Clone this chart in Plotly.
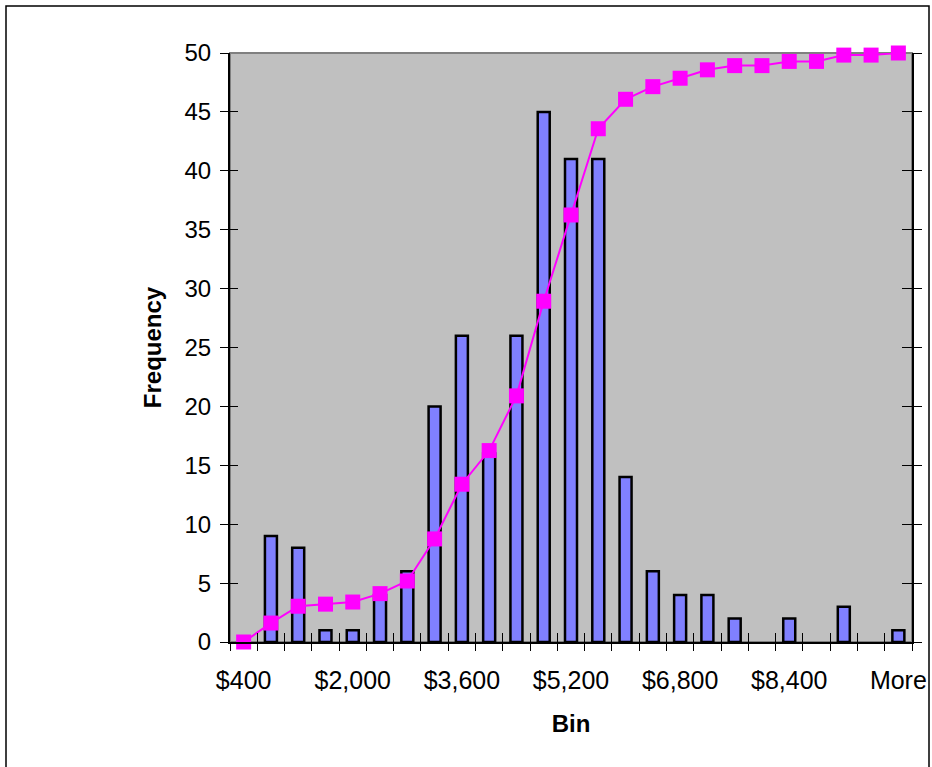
import numpy as np
import plotly.graph_objects as go

# Histogram bins (upper bound of each $400 bin) and counts
bins = ["$400", "$800", "$1,200", "$1,600", "$2,000", "$2,400", "$2,800",
        "$3,200", "$3,600", "$4,000", "$4,400", "$4,800", "$5,200", "$5,600",
        "$6,000", "$6,400", "$6,800", "$7,200", "$7,600", "$8,000", "$8,400",
        "$8,800", "$9,200", "$9,600", "More"]
frequency = [0, 9, 8, 1, 1, 4, 6, 20, 26, 16, 26, 45, 41, 41,
             14, 6, 4, 4, 2, 0, 2, 0, 3, 0, 1]
# Only every fourth bin carries a label on the category axis
labeled_bins = ["$400", "$2,000", "$3,600", "$5,200", "$6,800", "$8,400", "More"]

# Cumulative share of observations, in percent
cumulative_pct = np.cumsum(frequency) / np.sum(frequency) * 100.0

FONT = "Liberation Sans, Arial, sans-serif"
tick_text = [b if b in labeled_bins else "" for b in bins]
# empty bins get no bar outline at all
bar_heights = [v if v > 0 else None for v in frequency]

fig = go.Figure()

fig.add_trace(go.Bar(
    x=bins, y=bar_heights, xaxis="x", yaxis="y",
    width=0.44,
    marker=dict(color="#8080FF", line=dict(color="#000000", width=2.5)),
    name="Frequency", showlegend=False,
))

fig.add_trace(go.Scatter(
    x=bins, y=cumulative_pct, xaxis="x2", yaxis="y2",
    mode="lines+markers",
    line=dict(color="#FF00FF", width=2),
    marker=dict(symbol="square", size=15, color="#FF00FF"),
    name="Cumulative %", showlegend=False, cliponaxis=False,
))

# Transparent helpers that carry the inward half of the crossing ticks
fig.add_trace(go.Scatter(x=[bins[0]], y=[0], xaxis="x2", yaxis="y3",
                         mode="markers", marker=dict(opacity=0),
                         hoverinfo="skip", showlegend=False))
fig.add_trace(go.Scatter(x=[bins[0]], y=[0], xaxis="x2", yaxis="y4",
                         mode="markers", marker=dict(opacity=0),
                         hoverinfo="skip", showlegend=False))

common_x = dict(
    type="category", categoryorder="array", categoryarray=bins,
    range=[-0.5, len(bins) - 0.5], tickson="boundaries",
    tickmode="array", tickvals=bins, ticktext=tick_text, tickangle=0,
    showgrid=False, zeroline=False, tickcolor="#000000", tickwidth=1,
    automargin=False,
)
common_y = dict(showgrid=False, zeroline=False, automargin=False,
                tickcolor="#000000", tickwidth=1)

fig.update_layout(
    width=932, height=767,
    margin=dict(l=230, r=20, t=53, b=125),
    paper_bgcolor="#FFFFFF", plot_bgcolor="#C0C0C0",
    font=dict(family=FONT, size=24, color="#000000"),
    xaxis=dict(**common_x, ticks="outside", ticklen=7,
               showline=True, linecolor="#000000", linewidth=2,
               tickfont=dict(size=25), ticklabelstandoff=15,
               title=dict(text="<b>Bin</b>", font=dict(size=24), standoff=22)),
    xaxis2=dict(**common_x, overlaying="x", side="bottom", anchor="y",
                ticks="inside", ticklen=9, showticklabels=False,
                showline=False),
    yaxis=dict(**common_y, range=[0, 50], dtick=5, tick0=0, ticks="outside",
               ticklen=8, showline=True, linecolor="#000000", linewidth=2,
               tickfont=dict(size=24), ticklabelstandoff=4,
               title=dict(text="<b>Frequency</b>", font=dict(size=24), standoff=16)),
    yaxis3=dict(**common_y, range=[0, 50], dtick=5, tick0=0, overlaying="y",
                side="left", anchor="x", ticks="inside", ticklen=8,
                showticklabels=False, showline=False),
    yaxis2=dict(**common_y, range=[0, 100], dtick=10, tick0=0, overlaying="y",
                side="right", anchor="x", ticks="outside", ticklen=8,
                showticklabels=False, showline=True, linecolor="#000000",
                linewidth=2),
    yaxis4=dict(**common_y, range=[0, 100], dtick=10, tick0=0, overlaying="y",
                side="right", anchor="x", ticks="inside", ticklen=10,
                showticklabels=False, showline=False),
    shapes=[
        # grey plot-area border
        dict(type="rect", xref="paper", yref="paper", x0=0, x1=1, y0=0, y1=1,
             line=dict(color="#808080", width=2), layer="below"),
        # chart frame
        dict(type="rect", xref="paper", yref="paper",
             x0=(6 - 230) / 682, x1=(929 - 230) / 682,
             y0=(642 - 790) / 589, y1=(642 - 6) / 589,
             line=dict(color="#000000", width=1.5), fillcolor="rgba(0,0,0,0)"),
    ],
)

fig.write_html("out.html")
